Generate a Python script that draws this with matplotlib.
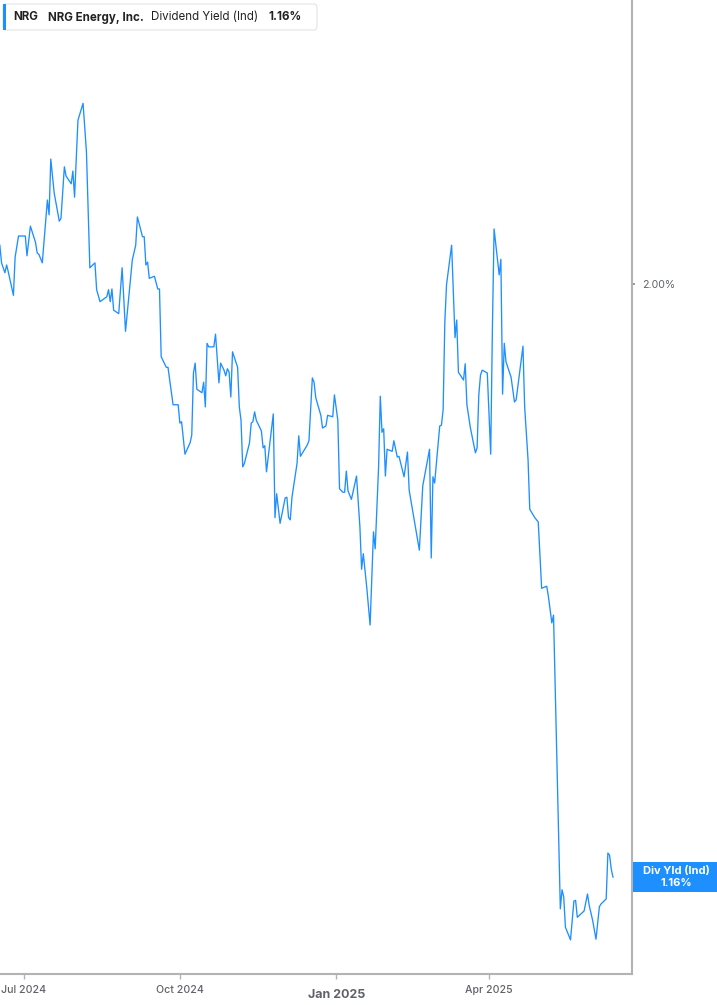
import matplotlib
matplotlib.use("Agg")
import matplotlib.pyplot as plt
from matplotlib.patches import FancyBboxPatch, Rectangle
import pandas as pd

plt.rcParams['font.family'] = ['Inter', 'DejaVu Sans']

dates = [
    "2024-06-17", "2024-06-18", "2024-06-20", "2024-06-21", "2024-06-22", "2024-06-25", "2024-06-26", "2024-06-28",
    "2024-07-02", "2024-07-03", "2024-07-05", "2024-07-08", "2024-07-09", "2024-07-10", "2024-07-12", "2024-07-15",
    "2024-07-16", "2024-07-17", "2024-07-19", "2024-07-22", "2024-07-23", "2024-07-25", "2024-07-26", "2024-07-29",
    "2024-07-30", "2024-07-31", "2024-08-02", "2024-08-05", "2024-08-07", "2024-08-09", "2024-08-12", "2024-08-13",
    "2024-08-15", "2024-08-19", "2024-08-20", "2024-08-21", "2024-08-22", "2024-08-23", "2024-08-26", "2024-08-28",
    "2024-08-30", "2024-09-03", "2024-09-05", "2024-09-06", "2024-09-09", "2024-09-10", "2024-09-11", "2024-09-12",
    "2024-09-13", "2024-09-16", "2024-09-18", "2024-09-19", "2024-09-20", "2024-09-23", "2024-09-24", "2024-09-27",
    "2024-09-30", "2024-10-01", "2024-10-02", "2024-10-04", "2024-10-07", "2024-10-08", "2024-10-09", "2024-10-10",
    "2024-10-11", "2024-10-14", "2024-10-15", "2024-10-16", "2024-10-17", "2024-10-18", "2024-10-21", "2024-10-22",
    "2024-10-24", "2024-10-25", "2024-10-27", "2024-10-28", "2024-10-29", "2024-10-30", "2024-10-31", "2024-11-01",
    "2024-11-04", "2024-11-05", "2024-11-06", "2024-11-07", "2024-11-08", "2024-11-11", "2024-11-12", "2024-11-13",
    "2024-11-14", "2024-11-15", "2024-11-18", "2024-11-19", "2024-11-20", "2024-11-21", "2024-11-23", "2024-11-25",
    "2024-11-26", "2024-11-27", "2024-11-29", "2024-12-02", "2024-12-03", "2024-12-04", "2024-12-05", "2024-12-06",
    "2024-12-09", "2024-12-10", "2024-12-11", "2024-12-15", "2024-12-16", "2024-12-18", "2024-12-19", "2024-12-20",
    "2024-12-23", "2024-12-24", "2024-12-26", "2024-12-27", "2024-12-30", "2024-12-31", "2025-01-02", "2025-01-03",
    "2025-01-05", "2025-01-06", "2025-01-07", "2025-01-08", "2025-01-10", "2025-01-13", "2025-01-15", "2025-01-16",
    "2025-01-17", "2025-01-19", "2025-01-21", "2025-01-23", "2025-01-24", "2025-01-26", "2025-01-27", "2025-01-28",
    "2025-01-29", "2025-01-30", "2025-01-31", "2025-02-03", "2025-02-04", "2025-02-06", "2025-02-07", "2025-02-10",
    "2025-02-12", "2025-02-13", "2025-02-19", "2025-02-21", "2025-02-25", "2025-02-26", "2025-02-27", "2025-02-28",
    "2025-03-03", "2025-03-04", "2025-03-05", "2025-03-06", "2025-03-07", "2025-03-10", "2025-03-12", "2025-03-13",
    "2025-03-14", "2025-03-17", "2025-03-18", "2025-03-19", "2025-03-21", "2025-03-24", "2025-03-25", "2025-03-26",
    "2025-03-27", "2025-03-28", "2025-03-31", "2025-04-02", "2025-04-03", "2025-04-04", "2025-04-07", "2025-04-08",
    "2025-04-09", "2025-04-10", "2025-04-11", "2025-04-14", "2025-04-16", "2025-04-17", "2025-04-21", "2025-04-22",
    "2025-04-24", "2025-04-25", "2025-04-28", "2025-04-30", "2025-05-02", "2025-05-05", "2025-05-06", "2025-05-08",
    "2025-05-09", "2025-05-13", "2025-05-14", "2025-05-15", "2025-05-16", "2025-05-19", "2025-05-21", "2025-05-22",
    "2025-05-23", "2025-05-27", "2025-05-29", "2025-05-30", "2025-06-01", "2025-06-03", "2025-06-05", "2025-06-06",
    "2025-06-09", "2025-06-10", "2025-06-11", "2025-06-12", "2025-06-13",
]

div_yield = [
    2.055, 2.030, 2.016, 2.027, 2.017, 1.984, 2.038, 2.068,
    2.068, 2.040, 2.082, 2.059, 2.044, 2.042, 2.030, 2.119,
    2.098, 2.177, 2.129, 2.089, 2.093, 2.166, 2.153, 2.142,
    2.160, 2.123, 2.232, 2.256, 2.187, 2.023, 2.030, 1.992,
    1.975, 1.982, 1.992, 1.975, 1.993, 1.963, 1.958, 2.023,
    1.933, 2.034, 2.055, 2.095, 2.067, 2.067, 2.027, 2.031,
    2.008, 2.011, 1.993, 1.993, 1.897, 1.882, 1.882, 1.829,
    1.829, 1.803, 1.805, 1.759, 1.775, 1.786, 1.874, 1.888,
    1.851, 1.846, 1.861, 1.826, 1.916, 1.911, 1.911, 1.929,
    1.860, 1.888, 1.878, 1.870, 1.880, 1.875, 1.840, 1.904,
    1.882, 1.826, 1.807, 1.741, 1.746, 1.775, 1.803, 1.805,
    1.819, 1.807, 1.792, 1.768, 1.771, 1.734, 1.775, 1.816,
    1.669, 1.703, 1.661, 1.697, 1.698, 1.669, 1.666, 1.698,
    1.746, 1.785, 1.756, 1.772, 1.778, 1.867, 1.861, 1.839,
    1.814, 1.796, 1.799, 1.814, 1.812, 1.843, 1.807, 1.710,
    1.705, 1.705, 1.735, 1.707, 1.695, 1.728, 1.656, 1.596,
    1.618, 1.571, 1.517, 1.649, 1.625, 1.741, 1.841, 1.790,
    1.795, 1.728, 1.766, 1.763, 1.778, 1.755, 1.756, 1.727,
    1.762, 1.708, 1.623, 1.714, 1.766, 1.612, 1.727, 1.718,
    1.799, 1.800, 1.822, 1.946, 1.999, 2.055, 1.924, 1.949,
    1.875, 1.864, 1.887, 1.829, 1.797, 1.761, 1.768, 1.843,
    1.871, 1.878, 1.874, 1.759, 1.935, 2.078, 2.013, 2.035,
    1.844, 1.916, 1.890, 1.868, 1.833, 1.836, 1.912, 1.826,
    1.751, 1.681, 1.669, 1.663, 1.569, 1.572, 1.557, 1.520,
    1.531, 1.115, 1.142, 1.132, 1.089, 1.071, 1.126, 1.127,
    1.103, 1.112, 1.136, 1.120, 1.099, 1.072, 1.118, 1.122,
    1.129, 1.194, 1.191, 1.171, 1.160,
]

tick_dates = ["2024-07-01", "2024-10-01", "2025-01-01", "2025-04-01"]
tick_labels = ["Jul 2024", "Oct 2024", "Jan 2025", "Apr 2025"]
ytick_vals = [2.00]
ytick_labels = ["2.00%"]
ticker = "NRG"
company = "NRG Energy, Inc."
metric = "Dividend Yield (Ind)"
last_label = "1.16%"
badge_title = "Div Yld (Ind)"

W, H = 717, 1005
LINE = "#1e8fff"
GRAY = "#b3b3b3"
TXT = "#5f6368"

fig = plt.figure(figsize=(W / 100, H / 100), dpi=100)
ax = fig.add_axes([0, 31 / H, 632 / W, 1 - 31 / H])

x = pd.to_datetime(dates)
ax.plot(x, div_yield, color=LINE, lw=0.95)

ref = pd.Timestamp("2024-07-01")
ax.set_xlim(ref - pd.Timedelta(days=13.9), ref + pd.Timedelta(days=358.2))
ax.set_ylim(1.0227, 2.4023)

for s in ["top", "left"]:
    ax.spines[s].set_visible(False)
for s in ["right", "bottom"]:
    ax.spines[s].set_color(GRAY)
    ax.spines[s].set_linewidth(1.5)

ax.set_xticks(pd.to_datetime(tick_dates))
ax.set_xticklabels(tick_labels)
ax.tick_params(axis="x", length=3.5, width=1, color=GRAY, labelsize=7.6,
               labelcolor=TXT, pad=4.5)
for lbl in ax.get_xticklabels():
    lbl.set_fontweight("medium")
    if lbl.get_text().startswith("Jan"):
        lbl.set_fontweight("bold")
        lbl.set_fontsize(9)
        lbl.set_y(-0.004)

ax.yaxis.tick_right()
ax.set_yticks(ytick_vals)
ax.set_yticklabels(ytick_labels)
ax.tick_params(axis="y", length=2, width=1.2, color="#888888", labelsize=7.6,
               labelcolor=TXT, pad=5)


def fx(px):
    return px / W


def fy(py):
    return 1 - py / H


# header legend box
box = FancyBboxPatch((fx(3), fy(30)), fx(317) - fx(3), fy(4) - fy(30),
                     boxstyle="round,pad=0,rounding_size=0.004",
                     transform=fig.transFigure, facecolor="white",
                     edgecolor="#e3e3e3", lw=0.8)
fig.add_artist(box)
fig.add_artist(Rectangle((fx(3), fy(30)), fx(3), fy(4) - fy(30),
                         transform=fig.transFigure, facecolor=LINE,
                         edgecolor="none"))
ty = fy(17.5)
fig.text(fx(13), ty, ticker, fontsize=8.3, fontweight="bold", color="#222222", va="center")
fig.text(fx(48), ty, company, fontsize=8.3, fontweight="bold", color="#222222", va="center")
fig.text(fx(151), ty, metric, fontsize=8.3, color="#222222", va="center")
fig.text(fx(268), ty, last_label, fontsize=8.3, fontweight="bold", color="#222222", va="center")

# right-hand badge
fig.add_artist(Rectangle((fx(633), fy(892)), fx(717) - fx(633), fy(862) - fy(892),
                         transform=fig.transFigure, facecolor=LINE,
                         edgecolor="none"))
fig.text(fx(676), fy(870.5), badge_title, fontsize=8, fontweight="bold",
         color="white", ha="center", va="center")
fig.text(fx(676), fy(882.5), last_label, fontsize=8, fontweight="bold",
         color="white", ha="center", va="center")

fig.savefig("out.png", dpi=100)
